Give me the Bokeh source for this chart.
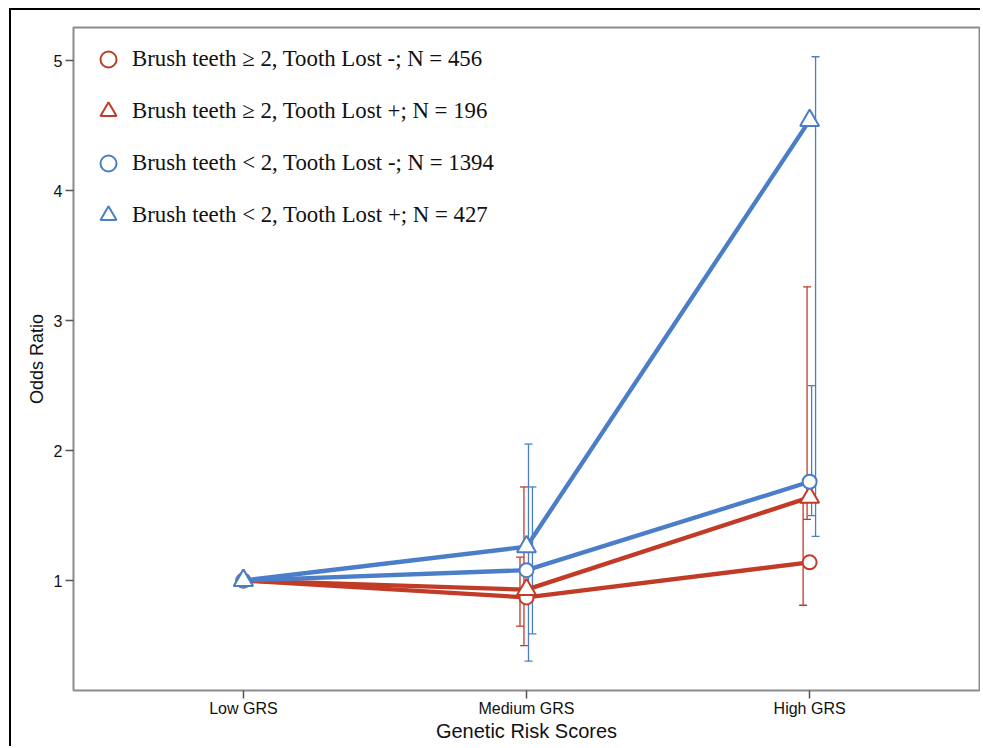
from bokeh.plotting import figure
from bokeh.models import ColumnDataSource, Whisker, TeeHead, FixedTicker, Legend, LegendItem
from bokeh.embed import file_html
from bokeh.resources import INLINE

# ---- data ----
categories = ["Low GRS", "Medium GRS", "High GRS"]
series_labels = [
    "Brush teeth \u2265 2, Tooth Lost -; N = 456",
    "Brush teeth \u2265 2, Tooth Lost +; N = 196",
    "Brush teeth < 2, Tooth Lost -; N = 1394",
    "Brush teeth < 2, Tooth Lost +; N = 427",
]
or_rc = [1.00, 0.87, 1.14]
or_rt = [1.00, 0.93, 1.64]
or_bc = [1.00, 1.08, 1.76]
or_bt = [1.00, 1.26, 4.54]
lo_rc = [None, 0.65, 0.81]
hi_rc = [None, 1.18, 1.60]
lo_rt = [None, 0.50, 1.47]
hi_rt = [None, 1.72, 3.26]
lo_bc = [None, 0.38, 1.50]
hi_bc = [None, 2.05, 2.50]
lo_bt = [None, 0.59, 1.34]
hi_bt = [None, 1.72, 5.03]
y_ticks = [1, 2, 3, 4, 5]

RED = "#c23b26"
BLUE = "#4a7ec8"
SANS = "Liberation Sans"
series = [
    (or_rc, lo_rc, hi_rc, RED, "circle", 14, -0.023),
    (or_rt, lo_rt, hi_rt, RED, "triangle", 19, -0.009),
    (or_bc, lo_bc, hi_bc, BLUE, "circle", 14, 0.007),
    (or_bt, lo_bt, hi_bt, BLUE, "triangle", 19, 0.021),
]
xpos = list(range(1, len(categories) + 1))

p = figure(width=971, height=738, x_range=(0.4, 3.6), y_range=(0.154, 5.255),
           output_backend="svg", toolbar_location=None,
           min_border_left=62, min_border_top=17, min_border_right=3, min_border_bottom=58)
p.styles = {"border-left": "2px solid black", "border-top": "2px solid black",
            "margin-left": "9px", "margin-top": "8px"}
p.background_fill_color = "white"
p.border_fill_color = "white"
p.outline_line_color = "#8c8c8c"
p.outline_line_width = 2
p.grid.visible = False

# error bars
for vals, lo, hi, col, mk, sz, off in series:
    xs = [x + off for x, l in zip(xpos, lo) if l is not None]
    ls = [l for l in lo if l is not None]
    hs = [h for h in hi if h is not None]
    src = ColumnDataSource(dict(x=xs, lower=ls, upper=hs))
    w = Whisker(base="x", lower="lower", upper="upper", source=src, dimension="height",
                line_color=col, line_width=1.3,
                upper_head=TeeHead(size=8, line_color=col, line_width=1.3),
                lower_head=TeeHead(size=8, line_color=col, line_width=1.3))
    p.add_layout(w)

# lines
for vals, lo, hi, col, mk, sz, off in series:
    p.line(xpos, vals, line_color=col, line_width=4.3)

# markers
items = []
for (vals, lo, hi, col, mk, sz, off), lab in zip(series, series_labels):
    r = p.scatter(xpos, vals, marker=mk, size=sz, fill_color="white",
                  line_color=col, line_width=2)
    items.append(LegendItem(label=lab, renderers=[r]))

legend = Legend(items=items, location="top_left", margin=12, padding=0,
                glyph_width=46, glyph_height=40, spacing=12, label_standoff=1,
                border_line_color=None, background_fill_alpha=0,
                label_text_font="Liberation Serif", label_text_font_size="22.8px",
                label_text_color="#111111")
p.add_layout(legend)

# axes
p.xaxis.ticker = FixedTicker(ticks=xpos)
p.xaxis.major_label_overrides = {x: c for x, c in zip(xpos, categories)}
p.yaxis.ticker = FixedTicker(ticks=y_ticks)
p.xaxis.axis_label = "Genetic Risk Scores"
p.yaxis.axis_label = "Odds Ratio"
for ax in (p.xaxis, p.yaxis):
    ax.axis_line_color = None
    ax.major_tick_in = 0
    ax.major_tick_out = 8
    ax.major_tick_line_color = "#555555"
    ax.major_tick_line_width = 1.5
    ax.minor_tick_line_color = None
    ax.major_label_text_font = SANS
    ax.major_label_text_color = "#111111"
    ax.axis_label_text_font = SANS
    ax.axis_label_text_font_style = "normal"
    ax.axis_label_text_color = "#111111"
p.xaxis.axis_label_text_font_size = "20px"
p.yaxis.axis_label_text_font_size = "18px"
p.xaxis.major_label_text_font_size = "16px"
p.yaxis.major_label_text_font_size = "16px"
p.xaxis.major_label_standoff = 1
p.yaxis.major_label_standoff = 3
p.xaxis.axis_label_standoff = 0
p.yaxis.axis_label_standoff = 4

open("out.html", "w").write(file_html(p, INLINE))
